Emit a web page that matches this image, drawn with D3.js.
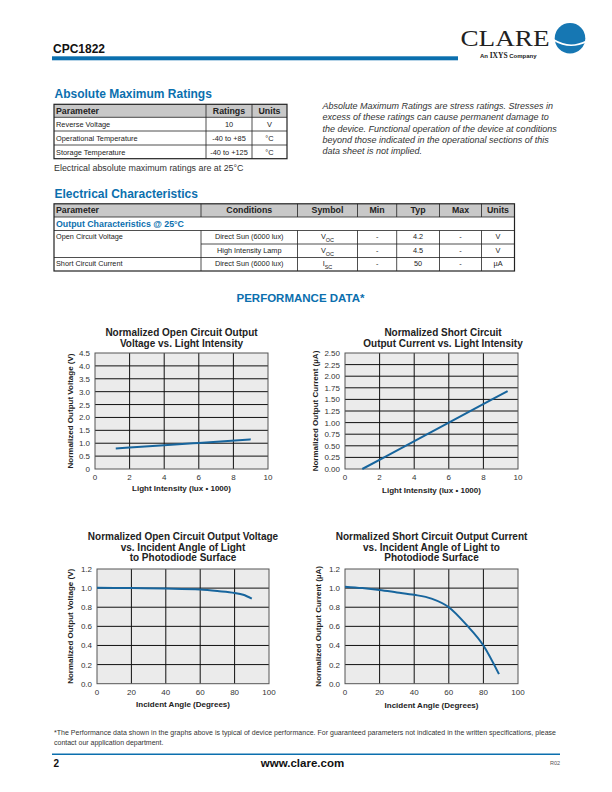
<!DOCTYPE html>
<html><head><meta charset="utf-8">
<script src="https://cdn.jsdelivr.net/npm/d3@7"></script>
<style>body{margin:0;background:#fff}svg{display:block}svg{font-family:"Liberation Sans",Arial,Helvetica,sans-serif}</style>
</head><body>
<script>
// ---------------- DATA ----------------
const ratingsHeader = ["Parameter", "Ratings", "Units"];
const ratingsParams = ["Reverse Voltage", "Operational Temperature", "Storage Temperature"];
const ratingsValues = ["10", "-40 to +85", "-40 to +125"];
const ratingsUnits = ["V", "°C", "°C"];

const elecHeader = ["Parameter", "Conditions", "Symbol", "Min", "Typ", "Max", "Units"];
const elecParams = ["Open Circuit Voltage", "", "Short Circuit Current"];
const elecConditions = ["Direct Sun (6000 lux)", "High Intensity Lamp", "Direct Sun (6000 lux)"];
const elecSymbols = [["V", "OC"], ["V", "OC"], ["I", "SC"]];
const elecMin = ["-", "-", "-"];
const elecTyp = ["4.2", "4.5", "50"];
const elecMax = ["-", "-", "-"];
const elecUnits = ["V", "V", "µA"];

// Chart 1: open circuit voltage vs light intensity
const vocLux = [1.2, 4, 6, 9];
const vocVsLux = [0.80, 0.92, 1.01, 1.15];
// Chart 2: short circuit current vs light intensity
const iscLux = [1.0, 3.5, 6, 8.5, 9.4];
const iscVsLux = [0.0, 0.5, 1.0, 1.5, 1.68];
// Chart 3: open circuit voltage vs incident angle
const vocAngle = [0, 20, 40, 60, 70, 80, 85, 90];
const vocVsAngle = [1.005, 1.0, 0.995, 0.985, 0.97, 0.95, 0.93, 0.89];
// Chart 4: short circuit current vs incident angle
const iscAngle = [0, 10, 20, 30, 40, 50, 60, 70, 80, 89];
const iscVsAngle = [1.015, 1.0, 0.98, 0.955, 0.93, 0.89, 0.80, 0.62, 0.40, 0.10];

const luxTicks = [0, 2, 4, 6, 8, 10];
const angleTicks = [0, 20, 40, 60, 80, 100];
const vocLuxTicks = [0, 0.5, 1.0, 1.5, 2.0, 2.5, 3.0, 3.5, 4.0, 4.5];
const iscLuxTicks = [0, 0.25, 0.5, 0.75, 1.0, 1.25, 1.5, 1.75, 2.0, 2.25, 2.5];
const angleYTicks = [0, 0.2, 0.4, 0.6, 0.8, 1.0, 1.2];

// ---------------- DRAW ----------------
const BLUE = "#0b6fae";
const SERIF = "'Liberation Serif','Times New Roman',serif";
const svg = d3.select("body").append("svg").attr("width", 612).attr("height", 792);
svg.append("rect").attr("width", 612).attr("height", 792).attr("fill", "#fff");

// Header
svg.append("text").attr("x", 53).attr("y", 52.5).attr("font-size", 12).attr("font-weight", "bold")
  .attr("fill", "#111").text("CPC1822");
svg.append("rect").attr("x", 52).attr("y", 56.3).attr("width", 406).attr("height", 4).attr("fill", BLUE);
// Logo
svg.append("text").attr("x", 460.5).attr("y", 46.3).style("font-family", SERIF)
  .attr("font-size", 24).attr("textLength", 89).attr("lengthAdjust", "spacingAndGlyphs").attr("fill", "#222").text("CLARE");
svg.append("circle").attr("cx", 570).attr("cy", 38.3).attr("r", 15.3).attr("fill", "#1677b3");
svg.append("path").attr("d", "M554,40 Q570,50 587,41").attr("fill", "none").attr("stroke", "#fff").attr("stroke-width", 1.6);
const tagline = svg.append("text").attr("x", 480).attr("y", 58).attr("font-size", 6).attr("font-weight", "bold").attr("fill", "#222");
tagline.append("tspan").text("An ");
tagline.append("tspan").style("font-family", SERIF).attr("font-size", 7.5).text("IXYS");
tagline.append("tspan").text(" Company");

// Section heading helper
function heading(x, y, t, size) {
  svg.append("text").attr("x", x).attr("y", y).attr("font-size", size || 12).attr("font-weight", "bold")
    .attr("fill", BLUE).text(t);
}
heading(54.5, 98, "Absolute Maximum Ratings");

// Table 1
(function () {
  const x0 = 54, x1 = 287, cols = [54, 206, 252, 287];
  const rows = [104.3, 117.3, 131, 145, 158.7];
  const g = svg.append("g");
  g.append("rect").attr("x", x0).attr("y", rows[0]).attr("width", x1 - x0).attr("height", rows[1] - rows[0]).attr("fill", "#c8c8c8");
  rows.slice(1, -1).forEach(y => g.append("line").attr("x1", x0).attr("x2", x1).attr("y1", y).attr("y2", y).attr("stroke", "#222").attr("stroke-width", 0.8));
  cols.slice(1, -1).forEach(x => g.append("line").attr("x1", x).attr("x2", x).attr("y1", rows[0]).attr("y2", rows[4]).attr("stroke", "#222").attr("stroke-width", 0.8));
  g.append("rect").attr("x", x0).attr("y", rows[0]).attr("width", x1 - x0).attr("height", rows[4] - rows[0])
    .attr("fill", "none").attr("stroke", "#222").attr("stroke-width", 1.2);
  const hd = g.append("g").attr("font-size", 8.8).attr("font-weight", "bold").attr("fill", "#222");
  hd.append("text").attr("x", x0 + 2).attr("y", rows[0] + 9.5).text(ratingsHeader[0]);
  [1, 2].forEach(i => hd.append("text").attr("x", (cols[i] + cols[i + 1]) / 2).attr("y", rows[0] + 9.5).attr("text-anchor", "middle").text(ratingsHeader[i]));
  const bd = g.append("g").attr("font-size", 7.4).attr("fill", "#222");
  ratingsParams.forEach((p, r) => {
    const y = rows[r + 1] + 9.6;
    bd.append("text").attr("x", x0 + 2).attr("y", y).text(p);
    bd.append("text").attr("x", (cols[1] + cols[2]) / 2).attr("y", y).attr("text-anchor", "middle").text(ratingsValues[r]);
    bd.append("text").attr("x", (cols[2] + cols[3]) / 2).attr("y", y).attr("text-anchor", "middle").text(ratingsUnits[r]);
  });
})();
svg.append("text").attr("x", 54).attr("y", 170.5).attr("font-size", 8.9).attr("fill", "#333")
  .text("Electrical absolute maximum ratings are at 25°C");

// Italic note
const noteLines = ["Absolute Maximum Ratings are stress ratings. Stresses in",
  "excess of these ratings can cause permanent damage to",
  "the device. Functional operation of the device at conditions",
  "beyond those indicated in the operational sections of this",
  "data sheet is not implied."];
noteLines.forEach((t, i) => svg.append("text").attr("x", 322.5).attr("y", 109 + i * 11.3).attr("font-size", 9)
  .attr("font-style", "italic").attr("fill", "#333").text(t));

heading(54.5, 198, "Electrical Characteristics");

// Table 2
(function () {
  const cols = [54, 201, 297.5, 357.5, 396.7, 439.5, 481.5, 514.5];
  const x0 = cols[0], x1 = cols[7];
  const rows = [203.8, 217, 230.5, 244, 257.5, 271];
  const g = svg.append("g");
  g.append("rect").attr("x", x0).attr("y", rows[0]).attr("width", x1 - x0).attr("height", rows[1] - rows[0]).attr("fill", "#c8c8c8");
  const ln = (a, b, c, d) => g.append("line").attr("x1", a).attr("y1", b).attr("x2", c).attr("y2", d).attr("stroke", "#222").attr("stroke-width", 0.8);
  ln(x0, rows[1], x1, rows[1]);
  ln(x0, rows[2], x1, rows[2]);
  ln(cols[1], rows[3], x1, rows[3]);
  ln(x0, rows[4], x1, rows[4]);
  cols.slice(1, -1).forEach(x => { ln(x, rows[0], x, rows[1]); ln(x, rows[2], x, rows[5]); });
  g.append("rect").attr("x", x0).attr("y", rows[0]).attr("width", x1 - x0).attr("height", rows[5] - rows[0])
    .attr("fill", "none").attr("stroke", "#222").attr("stroke-width", 1.2);
  const hd = g.append("g").attr("font-size", 8.8).attr("font-weight", "bold").attr("fill", "#222");
  hd.append("text").attr("x", x0 + 2).attr("y", rows[0] + 9.3).text(elecHeader[0]);
  for (let i = 1; i < 7; i++) hd.append("text").attr("x", (cols[i] + cols[i + 1]) / 2).attr("y", rows[0] + 9.3)
    .attr("text-anchor", "middle").text(elecHeader[i]);
  g.append("text").attr("x", x0 + 2).attr("y", rows[1] + 9.8).attr("font-size", 8.8).attr("font-weight", "bold")
    .attr("fill", BLUE).text("Output Characteristics @ 25°C");
  const bd = g.append("g").attr("font-size", 7.3).attr("fill", "#222");
  const mid = i => (cols[i] + cols[i + 1]) / 2;
  elecConditions.forEach((c, r) => {
    const y = rows[r + 2] + 8.6;
    bd.append("text").attr("x", x0 + 2).attr("y", y).text(elecParams[r]);
    bd.append("text").attr("x", mid(1)).attr("y", y).attr("text-anchor", "middle").text(c);
    const s = bd.append("text").attr("x", mid(2)).attr("y", y).attr("text-anchor", "middle");
    s.append("tspan").text(elecSymbols[r][0]);
    s.append("tspan").attr("font-size", 5.5).attr("dy", 3).text(elecSymbols[r][1]);
    bd.append("text").attr("x", mid(3)).attr("y", y).attr("text-anchor", "middle").text(elecMin[r]);
    bd.append("text").attr("x", mid(4)).attr("y", y).attr("text-anchor", "middle").text(elecTyp[r]);
    bd.append("text").attr("x", mid(5)).attr("y", y).attr("text-anchor", "middle").text(elecMax[r]);
    bd.append("text").attr("x", mid(6)).attr("y", y).attr("text-anchor", "middle").text(elecUnits[r]);
  });
})();

svg.append("text").attr("x", 300.5).attr("y", 302).attr("text-anchor", "middle").attr("font-size", 11.5)
  .attr("font-weight", "bold").attr("fill", BLUE).text("PERFORMANCE DATA*");

// Charts
function drawChart(o) {
  const g = svg.append("g");
  const x = d3.scaleLinear().domain(o.xDomain).range([o.left, o.right]);
  const y = d3.scaleLinear().domain(o.yDomain).range([o.bottom, o.top]);
  g.append("rect").attr("x", o.left).attr("y", o.top).attr("width", o.right - o.left).attr("height", o.bottom - o.top)
    .attr("fill", "#ebebeb");
  g.selectAll(".vg").data(o.xTicks.slice(1, -1)).join("line").attr("x1", d => x(d)).attr("x2", d => x(d))
    .attr("y1", o.top).attr("y2", o.bottom).attr("stroke", "#111").attr("stroke-width", 1);
  g.selectAll(".hg").data(o.yTicks.slice(1, -1)).join("line").attr("y1", d => y(d)).attr("y2", d => y(d))
    .attr("x1", o.left).attr("x2", o.right).attr("stroke", "#111").attr("stroke-width", 1);
  g.append("rect").attr("x", o.left).attr("y", o.top).attr("width", o.right - o.left).attr("height", o.bottom - o.top)
    .attr("fill", "none").attr("stroke", "#555").attr("stroke-width", 1);
  const pts = o.xs.map((v, i) => [v, o.ys[i]]);
  g.append("path").datum(pts).attr("fill", "none").attr("stroke", "#17659d").attr("stroke-width", 2)
    .attr("stroke-linecap", "butt")
    .attr("d", d3.line().x(d => x(d[0])).y(d => y(d[1])).curve(d3.curveMonotoneX));
  g.selectAll(".xt").data(o.xTicks).join("text").attr("x", d => x(d)).attr("y", o.bottom + 11)
    .attr("text-anchor", "middle").attr("font-size", 8).attr("fill", "#333").text(d => d);
  g.selectAll(".yt").data(o.yTicks).join("text").attr("x", o.left - 5).attr("y", d => y(d) + 3)
    .attr("text-anchor", "end").attr("font-size", 8).attr("fill", "#333").text(o.yFmt);
  o.title.forEach((t, i) => g.append("text").attr("x", o.titleX).attr("y", o.titleY + i * 10.5)
    .attr("text-anchor", "middle").attr("font-size", 10).attr("font-weight", "bold").attr("fill", "#222").text(t));
  g.append("text").attr("x", (o.left + o.right) / 2).attr("y", o.xTitleY).attr("text-anchor", "middle")
    .attr("font-size", 8).attr("font-weight", "bold").attr("fill", "#222").text(o.xTitle);
  g.append("text").attr("transform", `translate(${o.yTitleX},${(o.top + o.bottom) / 2}) rotate(-90)`)
    .attr("text-anchor", "middle").attr("font-size", 8).attr("font-weight", "bold").attr("fill", "#222").text(o.yTitle);
}

drawChart({ left: 95, right: 268, top: 353, bottom: 469, xDomain: [0, 10], yDomain: [0, 4.5],
  xTicks: luxTicks, yTicks: vocLuxTicks, yFmt: d => d === 0 ? "0" : d.toFixed(1), xs: vocLux, ys: vocVsLux,
  title: ["Normalized Open Circuit Output", "Voltage vs. Light Intensity"], titleX: 181.5, titleY: 336,
  xTitle: "Light Intensity (lux • 1000)", xTitleY: 491, yTitle: "Normalized Output Voltage (V)", yTitleX: 73 });
drawChart({ left: 345, right: 518, top: 353, bottom: 469, xDomain: [0, 10], yDomain: [0, 2.5],
  xTicks: luxTicks, yTicks: iscLuxTicks, yFmt: d => d.toFixed(2), xs: iscLux, ys: iscVsLux,
  title: ["Normalized Short Circuit", "Output Current vs. Light Intensity"], titleX: 443, titleY: 336,
  xTitle: "Light Intensity (lux • 1000)", xTitleY: 493, yTitle: "Normalized  Output Current (µA)", yTitleX: 318 });
drawChart({ left: 97, right: 269, top: 569, bottom: 683.7, xDomain: [0, 100], yDomain: [0, 1.2],
  xTicks: angleTicks, yTicks: angleYTicks, yFmt: d => d.toFixed(1), xs: vocAngle, ys: vocVsAngle,
  title: ["Normalized Open Circuit Output Voltage", "vs. Incident Angle of Light", "to Photodiode Surface"], titleX: 183, titleY: 540,
  xTitle: "Incident Angle (Degrees)", xTitleY: 707, yTitle: "Normalized Output Voltage (V)", yTitleX: 73 });
drawChart({ left: 345, right: 518, top: 569, bottom: 683.7, xDomain: [0, 100], yDomain: [0, 1.2],
  xTicks: angleTicks, yTicks: angleYTicks, yFmt: d => d.toFixed(1), xs: iscAngle, ys: iscVsAngle,
  title: ["Normalized Short Circuit Output Current", "vs. Incident Angle of Light to", "Photodiode Surface"], titleX: 431.5, titleY: 540,
  xTitle: "Incident Angle (Degrees)", xTitleY: 708, yTitle: "Normalized Output Current (µA)", yTitleX: 321 });

// Footer
svg.append("text").attr("x", 54).attr("y", 734.5).attr("font-size", 7).attr("fill", "#333")
  .attr("textLength", 502).attr("lengthAdjust", "spacing")
  .text("*The Performance data shown in the graphs above is typical of device performance.  For guaranteed parameters not indicated in the written specifications, please");
svg.append("text").attr("x", 54).attr("y", 744.5).attr("font-size", 7).attr("fill", "#333")
  .text("contact our application department.");
svg.append("rect").attr("x", 52).attr("y", 753.5).attr("width", 508).attr("height", 1.5).attr("fill", BLUE);
svg.append("text").attr("x", 53.5).attr("y", 767).attr("font-size", 10).attr("font-weight", "bold").attr("fill", "#111").text("2");
svg.append("text").attr("x", 302.5).attr("y", 767).attr("text-anchor", "middle").attr("font-size", 11.5)
  .attr("font-weight", "bold").attr("fill", "#111").text("www.clare.com");
svg.append("text").attr("x", 560).attr("y", 765).attr("text-anchor", "end").attr("font-size", 5.5).attr("fill", "#555").text("R02");
</script>
</body></html>
